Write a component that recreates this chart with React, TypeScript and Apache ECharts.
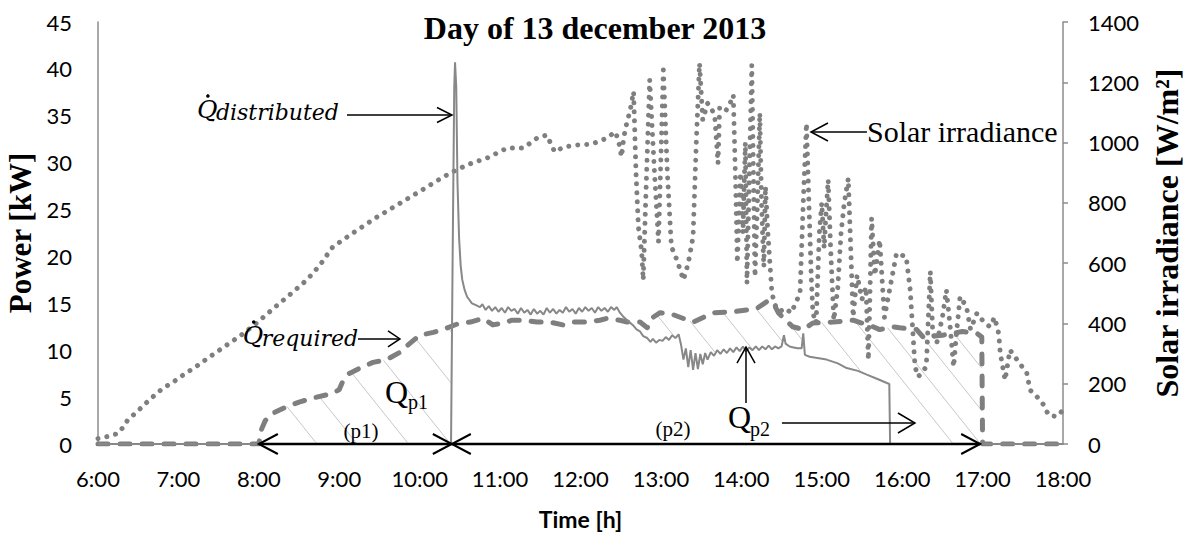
import React, { useEffect, useRef } from 'react';
import * as echarts from 'echarts';

// ---------- data ----------
const timeLabels = ['6:00', '7:00', '8:00', '9:00', '10:00', '11:00', '12:00', '13:00', '14:00', '15:00', '16:00', '17:00', '18:00'];

// Q distributed [h, kW]
const distributed: [number, number][] = [
  [6.0, 0], [10.39, 0], [10.41, 20], [10.43, 38], [10.44, 40.7], [10.455, 38], [10.47, 28], [10.49, 22], [10.51, 19],
  [10.53, 17.5], [10.56, 16.4], [10.59, 15.7], [10.65, 15.0], [10.7, 14.8], [10.75, 14.6], [10.78, 14.9], [10.82, 14.3],
  [10.86, 14.7], [10.9, 14.2], [10.94, 14.6], [10.98, 14.1], [11.02, 14.5], [11.06, 14.0], [11.1, 14.6], [11.14, 14.2],
  [11.18, 14.4], [11.22, 13.9], [11.26, 14.5], [11.3, 14.0], [11.34, 14.3], [11.38, 13.8], [11.42, 14.4], [11.46, 13.9],
  [11.5, 14.2], [11.54, 13.8], [11.58, 14.5], [11.62, 14.0], [11.66, 14.4], [11.7, 13.9], [11.74, 14.3], [11.78, 14.0],
  [11.82, 14.6], [11.86, 14.1], [11.9, 14.4], [11.94, 13.9], [11.98, 14.5], [12.02, 14.1], [12.06, 14.6], [12.1, 14.2],
  [12.14, 14.5], [12.18, 14.0], [12.22, 14.6], [12.26, 14.2], [12.3, 14.5], [12.34, 14.1], [12.38, 14.6], [12.42, 14.3],
  [12.45, 14.6], [12.49, 14.0], [12.53, 13.6], [12.58, 13.2], [12.62, 12.9], [12.66, 12.6], [12.7, 12.2], [12.74, 12.0],
  [12.78, 11.5], [12.83, 11.3], [12.87, 10.9], [12.9, 11.2], [12.94, 10.8], [12.98, 11.1], [13.02, 11.0], [13.06, 11.4],
  [13.1, 11.1], [13.14, 11.6], [13.18, 11.3], [13.22, 11.7], [13.25, 10.6], [13.28, 9.0], [13.31, 10.2], [13.34, 8.2],
  [13.37, 10.0], [13.4, 7.9], [13.43, 9.7], [13.46, 8.0], [13.49, 9.6], [13.52, 8.5], [13.55, 9.7], [13.58, 9.0],
  [13.62, 9.8], [13.66, 9.4], [13.7, 10.0], [13.74, 9.6], [13.78, 10.1], [13.82, 9.7], [13.86, 10.2], [13.9, 9.8],
  [13.94, 10.3], [13.98, 9.9], [14.02, 10.4], [14.06, 9.9], [14.1, 10.3], [14.14, 10.0], [14.18, 10.4], [14.22, 10.0],
  [14.26, 10.4], [14.3, 10.1], [14.34, 10.5], [14.38, 10.1], [14.42, 10.4], [14.46, 10.2], [14.5, 10.4], [14.53, 11.6],
  [14.55, 10.7], [14.6, 10.4], [14.65, 10.3], [14.7, 10.2], [14.75, 10.2], [14.77, 11.8], [14.79, 9.5], [14.85, 9.3],
  [15.06, 9.0], [15.2, 8.6], [15.31, 8.1], [15.45, 7.8], [15.56, 7.4], [15.7, 6.9], [15.81, 6.5], [15.84, 6.4],
  [15.85, 0], [18.0, 0],
];

// Q required [h, kW]
const required: [number, number][] = [
  [6.0, 0], [8.0, 0], [8.03, 1.5], [8.08, 2.5], [8.18, 3.3], [8.35, 4.0], [8.51, 4.5], [8.72, 5.0], [8.92, 5.4],
  [9.0, 5.8], [9.05, 6.8], [9.12, 7.5], [9.26, 8.1], [9.42, 8.7], [9.59, 9.0], [9.76, 9.8], [9.86, 10.6], [9.93, 11.1],
  [10.0, 11.6], [10.17, 11.9], [10.29, 12.2], [10.38, 12.5], [10.5, 12.9], [10.63, 13.0], [10.79, 13.4], [10.91, 12.7],
  [11.04, 12.9], [11.15, 13.2], [11.28, 13.2], [11.46, 13.0], [11.62, 13.0], [11.78, 12.7], [11.91, 13.0], [12.08, 13.0],
  [12.24, 13.2], [12.33, 13.4], [12.49, 13.2], [12.58, 13.0], [12.74, 13.0], [12.83, 12.4], [12.9, 13.5], [12.99, 14.0],
  [13.15, 13.8], [13.4, 13.0], [13.65, 14.0], [13.9, 14.1], [14.08, 14.3], [14.2, 14.5], [14.32, 15.2], [14.4, 15.0],
  [14.46, 14.0], [14.55, 13.2], [14.64, 12.5], [14.77, 12.2], [14.89, 12.9], [15.14, 13.0], [15.39, 13.2], [15.64, 12.5],
  [15.72, 12.2], [15.89, 12.5], [15.97, 12.4], [16.18, 12.2], [16.26, 11.4], [16.5, 11.6], [16.75, 12.0], [16.93, 11.8],
  [16.99, 11.4], [17.0, 0], [18.0, 0],
];

// Solar irradiance [h, W/m2]
const irradiance: [number, number][] = [
  [6.0, 18], [6.12, 25], [6.25, 35], [6.31, 55], [6.37, 80], [6.48, 106], [6.61, 139], [6.71, 163], [6.81, 186],
  [6.92, 202], [7.02, 222], [7.23, 259], [7.42, 295], [7.6, 328], [7.8, 365], [7.99, 405], [8.2, 454], [8.41, 501],
  [8.6, 545], [8.75, 590], [8.92, 654], [9.17, 700], [9.47, 753], [9.72, 793], [9.97, 833], [10.17, 866], [10.38, 899],
  [10.59, 926], [10.84, 949], [11.09, 982], [11.29, 982], [11.46, 1015], [11.58, 1025], [11.68, 969], [11.79, 985],
  [11.96, 992], [12.14, 995], [12.33, 1015], [12.43, 1036], [12.47, 1010], [12.51, 953], [12.54, 1020], [12.57, 1058],
  [12.62, 1110], [12.66, 1169], [12.69, 900], [12.72, 720], [12.76, 640], [12.78, 544], [12.81, 800], [12.86, 1208],
  [12.92, 900], [12.97, 671], [13.0, 950], [13.03, 1241], [13.08, 900], [13.13, 655], [13.2, 610], [13.24, 577],
  [13.28, 544], [13.34, 600], [13.4, 688], [13.44, 1000], [13.48, 1263], [13.52, 1075], [13.58, 1130], [13.62, 1119],
  [13.67, 1086], [13.71, 931], [13.73, 1114], [13.8, 1102], [13.86, 1130], [13.9, 1158], [13.93, 850], [13.95, 601],
  [13.99, 900], [14.02, 700], [14.05, 1000], [14.07, 533], [14.1, 900], [14.13, 1257], [14.15, 900], [14.17, 555],
  [14.2, 800], [14.23, 1098], [14.25, 800], [14.28, 588], [14.3, 854], [14.33, 700], [14.38, 501], [14.42, 460],
  [14.48, 440], [14.55, 450], [14.62, 435], [14.68, 470], [14.73, 501], [14.77, 800], [14.81, 1064], [14.84, 800],
  [14.87, 550], [14.89, 434], [14.93, 401], [14.97, 700], [15.0, 800], [15.03, 650], [15.05, 750], [15.08, 876],
  [15.11, 650], [15.15, 411], [15.2, 520], [15.24, 700], [15.28, 800], [15.33, 881], [15.36, 650], [15.39, 422],
  [15.44, 560], [15.5, 480], [15.55, 520], [15.58, 279], [15.6, 500], [15.62, 749], [15.66, 560], [15.72, 677],
  [15.78, 420], [15.85, 520], [15.93, 633], [16.05, 621], [16.1, 511], [16.16, 256], [16.2, 223], [16.3, 256],
  [16.35, 572], [16.38, 368], [16.43, 335], [16.5, 420], [16.55, 511], [16.6, 380], [16.64, 256], [16.68, 380],
  [16.72, 489], [16.8, 455], [16.85, 380], [16.93, 434], [17.0, 410], [17.09, 389], [17.15, 420], [17.2, 367],
  [17.22, 301], [17.28, 212], [17.34, 312], [17.4, 290], [17.46, 268], [17.55, 235], [17.59, 179], [17.65, 165],
  [17.71, 146], [17.76, 130], [17.82, 96], [17.92, 91], [17.98, 107], [18.0, 110],
];

// period bounds [h]: start of p1, end of p1 / start of p2, end of p2
const periodBounds = [8.0, 10.4, 16.97];
// hatch line start times [h]
const hatchStarts = [8.35, 8.75, 9.15, 9.55, 9.95, 10.35, 12.54, 12.95, 13.36, 13.77, 14.18, 14.59, 15.0, 15.41, 15.82, 16.23, 16.64];

// ---------- styles ----------
const GREY = '#7f7f7f';
const AXIS = '#8c8c8c';
const SERIF = 'Liberation Serif';
const MATH = 'DejaVu Serif';
const SANS = 'Lato';

function interp(poly: number[][], x: number): number {
  for (let i = 1; i < poly.length; i++) {
    if (x <= poly[i][0]) {
      const [x0, y0] = poly[i - 1];
      const [x1, y1] = poly[i];
      if (x1 === x0) return y1;
      return y0 + ((y1 - y0) * (x - x0)) / (x1 - x0);
    }
  }
  return poly[poly.length - 1][1];
}

export default function App() {
  const ref = useRef<HTMLDivElement>(null);

  useEffect(() => {
    if (!ref.current) return;
    const chart = echarts.init(ref.current, undefined, { renderer: 'svg' });
    const tickFont = { fontFamily: SANS, fontSize: 22, color: '#000' };
    const option: any = {
      animation: false,
      backgroundColor: '#fff',
      title: {
        text: 'Day of 13 december 2013',
        left: 'center',
        top: 7,
        textStyle: { fontFamily: SERIF, fontWeight: 'bold', fontSize: 32, color: '#000' },
      },
      grid: { left: 98, right: 127, top: 22, bottom: 92, containLabel: false, outerBoundsMode: 'none' },
      xAxis: {
        type: 'value', min: 6, max: 18, interval: 1,
        name: 'Time [h]', nameLocation: 'middle', nameGap: 63,
        nameTextStyle: { fontFamily: SANS, fontWeight: 'bold', fontSize: 23, color: '#000' },
        axisLine: { show: true, onZero: false, lineStyle: { color: AXIS, width: 1.5 } },
        axisTick: { show: false }, splitLine: { show: false },
        axisLabel: { ...tickFont, margin: 23, formatter: (v: number) => timeLabels[Math.round(v - 6)] },
      },
      yAxis: [
        {
          type: 'value', position: 'left', min: 0, max: 45, interval: 5,
          name: 'Power [kW]', nameLocation: 'middle', nameRotate: 90, nameGap: 60,
          nameTextStyle: { fontFamily: SERIF, fontWeight: 'bold', fontSize: 31, color: '#000' },
          axisLine: { show: true, lineStyle: { color: AXIS, width: 1.5 } },
          axisTick: { show: false }, splitLine: { show: false },
          axisLabel: { ...tickFont, margin: 26, formatter: (v: number) => String(v) },
        },
        {
          type: 'value', position: 'right', min: 0, max: 1400, interval: 200,
          name: 'Solar irradiance [W/m²]', nameLocation: 'middle', nameRotate: 90, nameGap: 88,
          nameTextStyle: { fontFamily: SERIF, fontWeight: 'bold', fontSize: 32, color: '#000' },
          axisLine: { show: true, lineStyle: { color: AXIS, width: 1.5 } },
          axisTick: { show: true, inside: false, length: 5, lineStyle: { color: AXIS, width: 1.5 } },
          splitLine: { show: false },
          axisLabel: { ...tickFont, margin: 25, formatter: (v: number) => String(v) },
        },
      ],
      series: [
        {
          name: 'Solar irradiance', type: 'line', yAxisIndex: 1, data: irradiance,
          showSymbol: false, symbol: 'none', z: 2,
          lineStyle: { color: GREY, width: 5, type: [0.01, 9], cap: 'round', join: 'round' },
        },
        {
          name: 'Q required', type: 'line', yAxisIndex: 0, data: required,
          showSymbol: false, symbol: 'none', z: 3,
          lineStyle: { color: GREY, width: 5, type: [10, 12], cap: 'round', join: 'round' },
        },
        {
          name: 'Q distributed', type: 'line', yAxisIndex: 0, data: distributed,
          showSymbol: false, symbol: 'none', z: 4,
          lineStyle: { color: '#888888', width: 2 },
        },
      ],
    };
    chart.setOption(option);

    const P = (t: number, v: number) => chart.convertToPixel({ xAxisIndex: 0, yAxisIndex: 0 }, [t, v]) as number[];
    const upper = required.map(([t, v]) => P(t, v));
    const lower = distributed.map(([t, v]) => P(t, v));

    const els: any[] = [];
    // hatch lines
    const slope = 1.25;
    hatchStarts.forEach((t0) => {
      const x0 = P(t0, 0)[0];
      const y0 = interp(upper, x0);
      if (interp(lower, x0) - y0 < 4) return;
      let x = x0, y = y0;
      for (let i = 0; i < 800; i++) {
        const nx = x + 0.5;
        const ny = y0 + slope * (nx - x0);
        if (ny >= interp(lower, nx) - 1 || ny < interp(upper, nx) - 0.5) break;
        x = nx; y = ny;
      }
      if (x - x0 < 2) return;
      els.push({ type: 'line', shape: { x1: x0, y1: y0, x2: x, y2: y }, style: { stroke: '#c8c8c8', lineWidth: 1 }, z: 1 });
    });

    const line = (a: number[], b: number[], lw: number) => ({
      type: 'line', shape: { x1: a[0], y1: a[1], x2: b[0], y2: b[1] }, style: { stroke: '#000', lineWidth: lw }, z: 20,
    });
    const head = (tip: number[], from: number[], len: number, half: number, lw: number) => {
      const dx = tip[0] - from[0], dy = tip[1] - from[1];
      const d = Math.hypot(dx, dy);
      const ux = dx / d, uy = dy / d;
      const bx = tip[0] - ux * len, by = tip[1] - uy * len;
      return {
        type: 'polyline',
        shape: { points: [[bx - uy * half, by + ux * half], tip, [bx + uy * half, by - ux * half]] },
        style: { stroke: '#000', lineWidth: lw, fill: 'none' }, z: 20,
      };
    };
    const arrow = (a: number[], b: number[], lw: number, len: number, half: number) => [line(a, b, lw), head(b, a, len, half, lw)];
    const text = (pos: number[], str: string, size: number, family: string, extra: any = {}, dy = 0) => ({
      type: 'text', x: pos[0], y: pos[1] - 0.34 * size + dy,
      style: { text: str, fill: '#000', fontSize: size, fontFamily: family, align: 'left', verticalAlign: 'middle', ...extra },
      z: 20,
    });
    // Q with a dot (time derivative), followed by an italic subscript
    const qdot = (base: number[], sub: string) => {
      const [x, y] = base;
      els.push(text([x, y], 'Q', 25, MATH, { fontStyle: 'italic' }));
      els.push({ type: 'circle', shape: { cx: x + 11, cy: y - 22, r: 1.8 }, style: { fill: '#000' }, z: 20 });
      els.push(text([x + 19, y + 2], sub, 22, MATH, { fontStyle: 'italic' }));
    };

    // Q distributed label + arrow
    qdot(P(7.23, 34.77), 'distributed');
    els.push(...arrow(P(9.096, 35.08), P(10.402, 35.08), 1.5, 15, 7.5));
    // Q required label + arrow
    qdot(P(7.80, 10.66), 'required');
    els.push(...arrow(P(9.233, 11.2), P(9.755, 11.2), 1.5, 12, 8));
    // Solar irradiance
    els.push(text(P(15.562, 32.2), 'Solar irradiance', 30, SERIF));
    els.push(...arrow(P(15.562, 33.27), P(14.866, 33.27), 1.5, 17, 9));
    // Q p1
    els.push(text(P(9.569, 4.37), 'Q', 32, SERIF));
    els.push(text(P(9.855, 3.73), 'p1', 20, SERIF));
    els.push(text(P(9.27, 1.39), '(p1)', 21, SERIF, { align: 'center' }, 0.34 * 21));
    // Q p2
    els.push(text(P(13.834, 1.71), 'Q', 32, SERIF));
    els.push(text(P(14.107, 0.85), 'p2', 20, SERIF));
    els.push(text(P(13.15, 1.6), '(p2)', 21, SERIF, { align: 'center' }, 0.34 * 21));
    els.push(...arrow(P(14.505, 2.24), P(16.159, 2.24), 1.5, 17, 10));
    // vertical arrow to distributed
    els.push(...arrow(P(14.058, 4.37), P(14.058, 10.34), 1.5, 16, 9));
    // period double arrows
    const [s1, m, e2] = periodBounds;
    els.push(line(P(s1, 0), P(e2, 0), 2.5));
    els.push(head(P(s1, 0), P(m, 0), 19, 10, 2));
    els.push(head(P(m, 0), P(s1, 0), 19, 10, 2));
    els.push(head(P(m, 0), P(e2, 0), 19, 10, 2));
    els.push(head(P(e2, 0), P(m, 0), 19, 10, 2));

    chart.setOption({ graphic: { elements: els } });
    return () => chart.dispose();
  }, []);

  return (
    <div
      ref={ref}
      style={{ position: 'absolute', left: 0, top: 0, width: 1190, height: 536, background: '#fff' }}
    />
  );
}
